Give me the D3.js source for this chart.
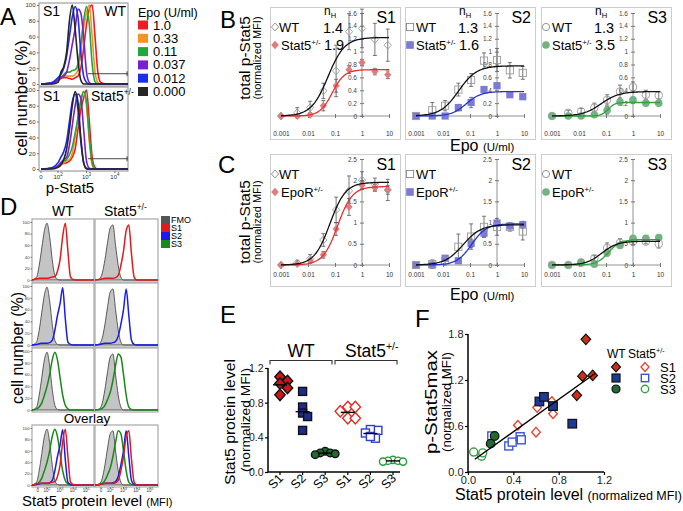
<!DOCTYPE html>
<html><head><meta charset="utf-8">
<script src="https://cdn.jsdelivr.net/npm/d3@7"></script>
<style>
body{margin:0;background:#fff}
svg text{font-family:"Liberation Sans",Arial,Helvetica,sans-serif}
</style>
</head><body>
<svg id="c" width="683" height="511"></svg>
<script>
// ================= DATA =================
// Panel A: Epo doses (legend) and flow histograms (% of max) on a log-channel grid
const epoLabels = ["1.0", "0.33", "0.11", "0.037", "0.012", "0.000"];
const histGridA = [1.4,1.8,2.0,2.1,2.2,2.3,2.4,2.5,2.6,2.7,2.8,2.9,3.0,3.1,3.2,3.3,3.4,3.5,3.7,4.0,4.46];
const aWT_10   = [0,2,4,7,8,8,7,6,8,10,20,45,75,95,100,60,15,2,0,0,0];
const aWT_033  = [0,2,5,8,10,10,10,10,12,18,40,70,90,100,60,15,2,0,0,0,0];
const aWT_011  = [0,2,5,8,12,15,15,17,18,25,50,80,98,75,25,3,0,0,0,0,0];
const aWT_0037 = [0,1,5,8,10,15,30,50,70,95,90,60,15,2,0,0,0,0,0,0,0];
const aWT_0012 = [0,2,8,12,20,35,60,85,98,85,40,10,2,0,0,0,0,0,0,0,0];
const aWT_000  = [0,0,2,15,22,40,80,100,70,30,5,0,0,0,0,0,0,0,0,0,0];
const aHet_10   = [0,1,3,6,7,8,10,15,25,50,75,90,100,60,15,2,0,0,0,0,0];
const aHet_033  = [0,1,4,7,8,10,12,20,40,65,88,98,80,35,5,0,0,0,0,0,0];
const aHet_011  = [0,1,4,8,10,12,18,28,45,65,85,98,85,40,8,0,0,0,0,0,0];
const aHet_0037 = [0,1,4,8,12,15,30,55,80,95,90,50,10,1,0,0,0,0,0,0,0];
const aHet_0012 = [0,2,8,15,22,35,60,85,95,75,35,8,1,0,0,0,0,0,0,0,0];
const aHet_000  = [0,0,2,5,12,25,50,80,98,85,40,8,0,0,0,0,0,0,0,0,0];
const aGate = 13;            // gate level (%)
const aTickT = [1.4, 2, 3, 4];
const aTickLabels = [["0",""],["10","2"],["10","3"],["10","4"]];
const pctTicks = [0,20,40,60,80,100];

// Panels B/C: dose response
const doses = [0.001, 0.004, 0.012, 0.037, 0.11, 0.33, 1, 3, 9];
const doseTicks = [0.001, 0.01, 0.1, 1, 10];
const doseTickLabels = ["0.001", "0.01", "0.1", "1", "10"];
const bS1wt  = [0,0.05,0.13,0.39,0.70,1.31,1.36,1.19,1.10];
const bS1wtE = [0.02,0.08,0.10,0.12,0.40,0.28,0.30,0.25,0.25];
const bS1mu  = [0,0,0.02,0.16,0.47,0.72,0.83,0.69,0.64];
const bS1muE = [0.01,0.02,0.03,0.08,0.10,0.06,0.05,0.05,0.06];
const bS2wt  = [0,0.09,0.16,0.41,0.56,0.86,0.87,0.71,0.67];
const bS2wtE = [0.02,0.12,0.08,0.10,0.10,0.12,0.18,0.12,0.10];
const bS2mu  = [0,0,0,0.13,0.21,0.41,0.47,0.33,0.30];
const bS2muE = [0.01,0.01,0.02,0.05,0.08,0.05,0.04,0.04,0.03];
const bS3wt  = [0,0.05,0.07,0.13,0.25,0.38,0.45,0.33,0.32];
const bS3wtE = [0.01,0.04,0.05,0.07,0.08,0.10,0.08,0.07,0.06];
const bS3mu  = [0,0,0,0.02,0.09,0.22,0.25,0.20,0.20];
const bS3muE = [0.01,0.02,0.02,0.04,0.06,0.05,0.04,0.04,0.03];
// Hill fits [top, EC50, nH]
const bFitWT = [[1.22,0.055,1.4],[0.78,0.038,1.3],[0.38,0.066,1.3]];
const bFitMu = [[0.72,0.079,1.9],[0.38,0.073,1.6],[0.21,0.12,3.5]];
const bNH = [["1.4","1.9"],["1.3","1.6"],["1.3","3.5"]];
const bYTicks = [0,0.2,0.4,0.6,0.8,1,1.2,1.4,1.6];

const cS1wt  = [0,0.05,0.15,0.59,1.30,1.75,2.00,1.90,1.77];
const cS1wtE = [0.02,0.05,0.10,0.15,0.30,0.35,0.20,0.15,0.25];
const cS1mu  = [0,0.02,0.10,0.24,0.85,1.37,1.88,1.82,1.77];
const cS1muE = [0.02,0.03,0.05,0.08,0.15,0.20,0.10,0.08,0.10];
const cS2wt  = [0,0.02,0.10,0.43,0.67,0.90,0.90,0.90,0.79];
const cS2wtE = [0.02,0.10,0.10,0.30,0.30,0.25,0.20,0.10,0.20];
const cS2mu  = [0,0,0.16,0.10,0.51,0.75,0.99,0.92,0.95];
const cS2muE = [0.02,0.02,0.05,0.05,0.10,0.08,0.06,0.05,0.08];
const cS3wt  = [0,0,0.05,0.16,0.40,0.52,0.55,0.55,0.50];
const cS3wtE = [0.02,0.03,0.05,0.06,0.12,0.10,0.08,0.05,0.10];
const cS3mu  = [0,0,0.07,0.02,0.29,0.46,0.63,0.63,0.65];
const cS3muE = [0.02,0.03,0.05,0.04,0.08,0.06,0.05,0.05,0.05];
const cFitWT = [[1.95,0.065,1.5],[0.95,0.055,1.3],[0.56,0.07,1.5]];
const cFitMu = [[1.85,0.125,1.6],[0.97,0.115,1.6],[0.60,0.126,2.0]];
const cYTicks = [0,0.5,1,1.5,2,2.5];
const stages = ["S1","S2","S3"];

// Panel D: Stat5 protein histograms
const histGridD = [0.85,1.2,1.4,1.6,1.8,2.0,2.2,2.4,2.6,2.8,3.0,3.2,3.4,3.6,3.8,4.0,4.4,5.0,5.6];
const dWT_FMO = [0,5,25,55,85,98,75,35,8,1,0,0,0,0,0,0,0,0,0];
const dWT_S1  = [0,2,3,3,3,3,4,5,6,15,35,75,98,50,5,1,0,0,0];
const dWT_S2  = [0,1,2,3,3,3,4,8,25,50,70,97,45,5,1,0,0,0,0];
const dWT_S3  = [0,2,5,12,25,40,60,85,98,85,55,25,8,2,0,0,0,0,0];
const dHet_FMO = [0,2,12,35,65,90,95,60,25,5,0,0,0,0,0,0,0,0,0];
const dHet_S1  = [0,1,2,3,3,3,3,4,8,25,50,85,95,45,5,0,0,0,0];
const dHet_S2  = [0,1,2,3,3,3,4,6,15,35,60,95,50,8,1,0,0,0,0];
const dHet_S3  = [0,1,3,8,18,30,50,75,95,90,60,25,5,1,0,0,0,0,0];
const dTickT = [1.3,2,3,4,5];
const dTickLabels = [["0",""],["10","2"],["10","3"],["10","4"],["10","5"]];
const dLegend = ["FMO","S1","S2","S3"];

// Panel E: Stat5 protein level
const eCats = ["S1","S2","S3","S1","S2","S3"];
const eWT_S1 = [1.10,1.05,1.02,0.97,0.89];
const eWT_S2 = [0.93,0.75,0.68,0.64,0.48];
const eWT_S3 = [0.24,0.22,0.21,0.22,0.20];
const eHet_S1 = [0.75,0.75,0.70,0.62,0.62];
const eHet_S2 = [0.48,0.49,0.45,0.39,0.41];
const eHet_S3 = [0.14,0.13,0.12,0.13,0.12];
const eYTicks = [0,0.4,0.8,1.2];

// Panel F: p-Stat5max vs Stat5 protein
const fWT_S1x = [1.04,1.01,1.10,0.96],   fWT_S1y = [1.73,1.25,1.26,1.00];
const fWT_S2x = [0.63,0.67,0.75,0.92],   fWT_S2y = [0.92,0.98,0.86,0.63];
const fWT_S3x = [0.20,0.235],            fWT_S3y = [0.37,0.47];
const fHet_S1x = [0.44,0.61,0.74,0.75,0.60], fHet_S1y = [0.61,0.84,0.92,0.76,0.52];
const fHet_S2x = [0.21,0.36,0.39,0.46,0.47], fHet_S2y = [0.47,0.34,0.39,0.46,0.42];
const fHet_S3x = [0.05,0.12,0.13],       fHet_S3y = [0.26,0.205,0.25];
const fXTicks = [0,0.4,0.8,1.2];
const fYTicks = [0,0.6,1.2,1.8];

// ================= DRAWING =================
const FONT = '"Liberation Sans", Arial, Helvetica, sans-serif';
const svg = d3.select("#c");

function T(x, y, str, size, o = {}) {
  const t = svg.append("text").attr("x", x).attr("y", y).attr("font-size", size)
    .attr("fill", o.fill || "#000").attr("text-anchor", o.anchor || "start");
  if (o.rotate) t.attr("transform", `rotate(${o.rotate},${x},${y})`);
  if (o.len) t.attr("textLength", o.len).attr("lengthAdjust", "spacingAndGlyphs");
  if (str !== null) t.text(str);
  return t;
}
function TS(x, y, base, sup, size, o = {}) {
  const t = T(x, y, null, size, o);
  t.append("tspan").text(base);
  t.append("tspan").attr("font-size", size * 0.6).attr("dy", -size * 0.42).text(sup);
  return t;
}
function marker(g, type, cx, cy, r, fill, stroke, sw) {
  let m;
  if (type === "circle") m = g.append("circle").attr("cx", cx).attr("cy", cy).attr("r", r);
  else if (type === "square") m = g.append("rect").attr("x", cx - r).attr("y", cy - r).attr("width", 2 * r).attr("height", 2 * r);
  else m = g.append("path").attr("d", `M${cx},${cy - r * 1.1}L${cx + r},${cy}L${cx},${cy + r * 1.1}L${cx - r},${cy}Z`);
  m.attr("fill", fill).attr("stroke", stroke).attr("stroke-width", sw);
  return m;
}

// ---------- Panel A ----------
T(0, 25, "A", 24);
const aColors = ["#ee1c24", "#f7931e", "#22a83a", "#7a1fd0", "#1c2bf0", "#262626"];
const aWT = [aWT_10, aWT_033, aWT_011, aWT_0037, aWT_0012, aWT_000];
const aHet = [aHet_10, aHet_033, aHet_011, aHet_0037, aHet_0012, aHet_000];
function histA(box, y100, y0, curves) {
  const g = svg.append("g");
  const x = d3.scaleLinear().domain([1.33, 4.46]).range([box.x0, box.x1]);
  const y = d3.scaleLinear().domain([0, 100]).range([y0, y100]);
  g.append("rect").attr("x", box.x0).attr("y", box.y0).attr("width", box.x1 - box.x0)
    .attr("height", box.y1 - box.y0).attr("fill", "#fff").attr("stroke", "#8a8a8a").attr("stroke-width", 1);
  const ya = g.append("g").attr("transform", `translate(${box.x0},0)`)
    .call(d3.axisLeft(y).tickValues(pctTicks).tickSize(2).tickPadding(1.5));
  ya.select(".domain").remove();
  ya.selectAll("text").attr("font-size", 6).attr("font-family", FONT).attr("fill", "#333");
  ya.selectAll("line").attr("stroke", "#777");
  const line = d3.line().x((d, i) => x(histGridA[i])).y(d => y(d)).curve(d3.curveMonotoneX);
  curves.forEach((c, k) => {
    g.append("path").attr("d", line(c)).attr("fill", "none").attr("stroke", aColors[k]).attr("stroke-width", 1.6);
  });
  g.append("line").attr("x1", x(3.05)).attr("x2", box.x1).attr("y1", y(aGate)).attr("y2", y(aGate)).attr("stroke", "#333").attr("stroke-width", 0.9);
  g.append("line").attr("x1", box.x1 - 1).attr("x2", box.x1 - 1).attr("y1", y(aGate) - 2.5).attr("y2", y(aGate) + 2.5).attr("stroke", "#333").attr("stroke-width", 0.9);
  return x;
}
histA({x0: 39, x1: 128, y0: 3, y1: 86}, 5, 84, aWT);
const xA = histA({x0: 39, x1: 128, y0: 87, y1: 171}, 90, 169, aHet);
aTickT.forEach((t, i) => {
  svg.append("line").attr("x1", xA(t)).attr("x2", xA(t)).attr("y1", 171).attr("y2", 173).attr("stroke", "#777");
  const tx = T(xA(t), 179, null, 6, {anchor: "middle", fill: "#333"});
  tx.append("tspan").text(aTickLabels[i][0]);
  if (aTickLabels[i][1]) tx.append("tspan").attr("font-size", 4.5).attr("dy", -3).text(aTickLabels[i][1]);
});
T(43, 16, "S1", 14);
T(126, 16, "WT", 14, {anchor: "end"});
T(43, 101, "S1", 14);
TS(91, 101, "Stat5", "+/-", 14);
T(27, 98, "cell number (%)", 16.5, {anchor: "middle", rotate: -90});
T(70, 193, "p-Stat5", 15, {anchor: "middle"});
T(138, 17, "Epo (U/ml)", 12.5);
epoLabels.forEach((l, i) => {
  svg.append("rect").attr("x", 138).attr("y", 20.5 + i * 13.3).attr("width", 10).attr("height", 9).attr("fill", aColors[i]);
  T(153, 29.5 + i * 13.3, l, 13);
});

// ---------- Panels B, C ----------
const shapes = ["diamond", "square", "circle"];
const muFill = ["#e27b7b", "#7b7bd6", "#72b383"];
const muCurve = ["#e23030", "#2434c8", "#2fa03a"];
const panelX = [270, 405, 541];
function hill(p, x) { return p[0] * Math.pow(x, p[2]) / (Math.pow(p[1], p[2]) + Math.pow(x, p[2])); }

function dosePanel(p) {
  const g = svg.append("g");
  const x = d3.scaleLog().domain([0.001, 10]).range([p.x0 + 11, p.x0 + 119]);
  const y = d3.scaleLinear().domain([0, p.yMax]).range([p.yZero, p.yTopPx]);
  g.append("rect").attr("x", p.x0 + 0.5).attr("y", p.boxTop + 0.5).attr("width", 130)
    .attr("height", p.boxBot - p.boxTop).attr("fill", "#fff").attr("stroke", "#cdcdcd");
  g.append("line").attr("x1", x(0.001)).attr("x2", x(10)).attr("y1", p.yZero).attr("y2", p.yZero).attr("stroke", "#777").attr("stroke-width", 0.8);
  const xa = g.append("g").attr("transform", `translate(0,${p.yZero})`)
    .call(d3.axisBottom(x).tickValues(doseTicks).tickFormat((d, i) => doseTickLabels[i]).tickSize(2).tickPadding(p.pad));
  xa.select(".domain").remove();
  xa.selectAll(".tick line").attr("y1", -2).attr("y2", 2).attr("stroke", "#777");
  xa.selectAll("text").attr("font-size", 6.5).attr("font-family", FONT).attr("fill", "#333");
  g.append("line").attr("x1", x(1)).attr("x2", x(1)).attr("y1", p.yZero).attr("y2", p.yTopPx).attr("stroke", "#777").attr("stroke-width", 0.8);
  const ya = g.append("g").attr("transform", `translate(${x(1)},0)`)
    .call(d3.axisLeft(y).tickValues(p.yTicks).tickFormat(d => String(+d.toFixed(1))).tickSize(2).tickPadding(3));
  ya.select(".domain").remove();
  ya.selectAll(".tick line").attr("x1", 2).attr("x2", -2).attr("stroke", "#777");
  ya.selectAll("text").attr("font-size", 6.5).attr("font-family", FONT).attr("fill", "#444");
  const k = p.k;
  const xs = d3.range(0, 81).map(i => Math.pow(10, -3 + 4 * i / 80));
  const curveLine = fit => d3.line().x(d => x(d)).y(d => y(hill(fit, d)))(xs);
  [[p.wt, p.wtE], [p.mu, p.muE]].forEach(([v, e]) => {
    doses.forEach((d, i) => {
      const cx = x(d);
      g.append("line").attr("x1", cx).attr("x2", cx).attr("y1", y(v[i] - e[i])).attr("y2", y(v[i] + e[i])).attr("stroke", "#555").attr("stroke-width", 0.8);
      [v[i] - e[i], v[i] + e[i]].forEach(vv => g.append("line").attr("x1", cx - 2).attr("x2", cx + 2).attr("y1", y(vv)).attr("y2", y(vv)).attr("stroke", "#555").attr("stroke-width", 0.8));
    });
  });
  doses.forEach((d, i) => marker(g, shapes[k], x(d), y(p.mu[i]), k === 2 ? 3.8 : 3.6, muFill[k], "none", 0));
  doses.forEach((d, i) => marker(g, shapes[k], x(d), y(p.wt[i]), k === 2 ? 3.8 : 3.6, "none", "#9a9a9a", 0.9));
  g.append("path").attr("d", curveLine(p.fitMu)).attr("fill", "none").attr("stroke", muCurve[k]).attr("stroke-width", 1.3);
  g.append("path").attr("d", curveLine(p.fitWT)).attr("fill", "none").attr("stroke", "#111").attr("stroke-width", 1.3);
  T(p.x0 + 126, p.boxTop + 16, stages[k], 16, {anchor: "end"});
  const lx = p.x0 + 5, ly1 = p.boxTop + 20, ly2 = p.boxTop + 38;
  marker(g, shapes[k], lx, ly1, 3.6, "#fff", "#888", 0.9);
  T(lx + (k === 0 ? 4 : 6), ly1 + 5, "WT", 13);
  marker(g, shapes[k], lx, ly2, 3.8, muFill[k], "none", 0);
  TS(lx + 6, ly2 + 5, p.mutName, "+/-", 13);
  if (p.nH) {
    const t = T(p.x0 + 60, p.boxTop + 8, null, 12, {anchor: "middle"});
    t.append("tspan").text("n");
    t.append("tspan").attr("font-size", 7.5).attr("dy", 2.5).text("H");
    T(p.x0 + 63, p.boxTop + 26, p.nH[0], 14.5, {anchor: "middle"});
    T(p.x0 + 64, p.boxTop + 43, p.nH[1], 14.5, {anchor: "middle"});
  }
}
const bWT = [bS1wt, bS2wt, bS3wt], bWTE = [bS1wtE, bS2wtE, bS3wtE], bMu = [bS1mu, bS2mu, bS3mu], bMuE = [bS1muE, bS2muE, bS3muE];
const cWT = [cS1wt, cS2wt, cS3wt], cWTE = [cS1wtE, cS2wtE, cS3wtE], cMu = [cS1mu, cS2mu, cS3mu], cMuE = [cS1muE, cS2muE, cS3muE];
for (let k = 0; k < 3; k++) {
  dosePanel({k, x0: panelX[k], boxTop: 7, boxBot: 139, yZero: 116, yTopPx: 13, yMax: 1.6, yTicks: bYTicks, pad: 13,
    wt: bWT[k], wtE: bWTE[k], mu: bMu[k], muE: bMuE[k], fitWT: bFitWT[k], fitMu: bFitMu[k], nH: bNH[k], mutName: "Stat5"});
  dosePanel({k, x0: panelX[k], boxTop: 154, boxBot: 286, yZero: 265, yTopPx: 159, yMax: 2.5, yTicks: cYTicks, pad: 5,
    wt: cWT[k], wtE: cWTE[k], mu: cMu[k], muE: cMuE[k], fitWT: cFitWT[k], fitMu: cFitMu[k], nH: null, mutName: "EpoR"});
}
T(220, 28, "B", 24);
T(218, 173, "C", 24);
[58, 222].forEach(cy => {
  T(250, cy, "total p-Stat5", 15.5, {anchor: "middle", rotate: -90});
  T(261, cy, "(normalized MFI)", 11, {anchor: "middle", rotate: -90});
});
[151, 300].forEach(yy => {
  const t = T(450, yy, null, 16);
  t.append("tspan").text("Epo ");
  t.append("tspan").attr("font-size", 11.5).text("(U/ml)");
});

// ---------- Panel D ----------
T(0, 215, "D", 24);
T(63, 216, "WT", 14, {anchor: "middle"});
TS(104, 216, "Stat5", "+/-", 14);
const dColors = ["#555555", "#e01b1b", "#1a1aee", "#178a17"];
const dCols = [{x0: 32, x1: 94, c: [dWT_FMO, dWT_S1, dWT_S2, dWT_S3]}, {x0: 95, x1: 158, c: [dHet_FMO, dHet_S1, dHet_S2, dHet_S3]}];
const dRows = [{y0: 219, y1: 282, show: [1]}, {y0: 283, y1: 347, show: [2]}, {y0: 348, y1: 412, show: [3]}, {y0: 425, y1: 487, show: [3, 2, 1]}];
dCols.forEach((col, ci) => {
  const x = d3.scaleLinear().domain([0.85, 5.6]).range([col.x0, col.x1]);
  dRows.forEach((row, ri) => {
    const g = svg.append("g");
    const y = d3.scaleLinear().domain([0, 100]).range([row.y1 - 2, row.y0 + 3]);
    g.append("rect").attr("x", col.x0).attr("y", row.y0).attr("width", col.x1 - col.x0).attr("height", row.y1 - row.y0)
      .attr("fill", "#fff").attr("stroke", "#a8a8a8").attr("stroke-width", 1.2);
    const area = d3.area().x((d, i) => x(histGridD[i])).y0(y(0)).y1(d => y(d)).curve(d3.curveMonotoneX);
    const line = d3.line().x((d, i) => x(histGridD[i])).y(d => y(d)).curve(d3.curveMonotoneX);
    g.append("path").attr("d", area(col.c[0])).attr("fill", "#c4c4c4").attr("stroke", "#4a4a4a").attr("stroke-width", 0.9);
    row.show.forEach(s => g.append("path").attr("d", line(col.c[s])).attr("fill", "none").attr("stroke", dColors[s]).attr("stroke-width", 1.5));
    if (ci === 0) {
      const ya = g.append("g").attr("transform", `translate(${col.x0},0)`)
        .call(d3.axisLeft(y).tickValues(pctTicks).tickSize(1.5).tickPadding(1));
      ya.select(".domain").remove();
      ya.selectAll("text").attr("font-size", 4.2).attr("font-family", FONT).attr("fill", "#333");
      ya.selectAll("line").attr("stroke", "#777");
    }
    if (ri === 3) {
      dTickT.forEach((t, i) => {
        g.append("line").attr("x1", x(t)).attr("x2", x(t)).attr("y1", row.y1).attr("y2", row.y1 + 1.5).attr("stroke", "#777");
        const tx = T(x(t), row.y1 + 5, null, 4.5, {anchor: "middle", fill: "#333"});
        tx.append("tspan").text(dTickLabels[i][0]);
        if (dTickLabels[i][1]) tx.append("tspan").attr("font-size", 3.5).attr("dy", -2).text(dTickLabels[i][1]);
      });
    }
  });
});
T(87, 423, "Overlay", 13.5, {anchor: "middle"});
T(23, 348, "cell number (%)", 16, {anchor: "middle", rotate: -90});
{
  const t = T(22, 506, null, 15);
  t.append("tspan").text("Stat5 protein level ");
  t.append("tspan").attr("font-size", 11).text("(MFI)");
}
dLegend.forEach((l, i) => {
  svg.append("rect").attr("x", 161).attr("y", 216 + i * 8).attr("width", 9).attr("height", 8).attr("fill", dColors[i]);
  T(171, 223 + i * 8, l, 9);
});

// ---------- Panel E ----------
T(220, 323, "E", 24);
const eVals = [eWT_S1, eWT_S2, eWT_S3, eHet_S1, eHet_S2, eHet_S3];
const eStyle = [
  {s: "diamond", f: "#c8161b", st: "#111", r: 5.2},
  {s: "square", f: "#1c2d8c", st: "#111", r: 4},
  {s: "circle", f: "#1f6b30", st: "#111", r: 3.8},
  {s: "diamond", f: "#fff", st: "#e32b22", r: 5.2},
  {s: "square", f: "#fff", st: "#2c3fd0", r: 4},
  {s: "circle", f: "#fff", st: "#2a9a3e", r: 3.6}];
const xE = d3.scalePoint().domain(d3.range(6)).range([280, 393]);
const yE = d3.scaleLinear().domain([0, 1.2]).range([472, 368]);
{
  const g = svg.append("g");
  const ya = g.append("g").attr("transform", "translate(268,0)")
    .call(d3.axisLeft(yE).tickValues(eYTicks).tickFormat(d3.format(".1f")).tickSize(3).tickPadding(1.5));
  ya.select(".domain").remove();
  ya.selectAll("text").attr("font-size", 10.5).attr("font-family", FONT).attr("fill", "#222");
  ya.selectAll("line").attr("stroke-width", 1.2);
  g.append("line").attr("x1", 268).attr("x2", 268).attr("y1", yE(0)).attr("y2", yE(1.2)).attr("stroke", "#000").attr("stroke-width", 1.5);
  g.append("line").attr("x1", 268).attr("x2", 400).attr("y1", yE(0)).attr("y2", yE(0)).attr("stroke", "#000").attr("stroke-width", 1.5);
  eCats.forEach((c, i) => {
    g.append("line").attr("x1", xE(i)).attr("x2", xE(i)).attr("y1", yE(0)).attr("y2", yE(0) + 3).attr("stroke", "#000").attr("stroke-width", 1.2);
    T(xE(i) + 4, 479, c, 12.5, {anchor: "end", rotate: -45});
  });
  function dodge(vals, step, minD) {
    const order = d3.range(vals.length).sort((a, b) => vals[b] - vals[a]);
    const placed = [], off = [];
    order.forEach(i => {
      const py = yE(vals[i]);
      for (let k = 0; k < 30; k++) {
        const o = (k % 2 ? 1 : -1) * Math.ceil(k / 2) * step;
        if (placed.every(p => Math.hypot(p.x - o, p.y - py) >= minD)) { off[i] = o; placed.push({x: o, y: py}); break; }
      }
    });
    return off;
  }
  eVals.forEach((vals, gi) => {
    const st = eStyle[gi];
    const off = dodge(vals, 2.5, 1.3 * st.r);
    const m = d3.mean(vals);
    vals.forEach((v, i) => marker(g, st.s, xE(gi) + off[i], yE(v), st.r, st.f, st.st, 1.4));
    g.append("line").attr("x1", xE(gi) - 7).attr("x2", xE(gi) + 7).attr("y1", yE(m)).attr("y2", yE(m)).attr("stroke", "#000").attr("stroke-width", 1.4);
  });
  [[270, 332, "WT"], [335, 397, "Stat5"]].forEach(([a, b, lab], i) => {
    g.append("path").attr("d", `M${a},364.5V360.5H${b}V364.5`).attr("fill", "none").attr("stroke", "#333").attr("stroke-width", 1.1);
    if (i === 0) T((a + b) / 2, 357, lab, 17.5, {anchor: "middle"});
    else TS(345, 357, lab, "+/-", 17.5);
  });
}
T(235, 422, "Stat5 protein level", 15.5, {anchor: "middle", rotate: -90, len: 126});
T(250, 420, "(normalized MFI)", 12, {anchor: "middle", rotate: -90, len: 104});

// ---------- Panel F ----------
T(415, 327, "F", 24);
const xF = d3.scaleLinear().domain([0, 1.2]).range([468, 604]);
const yF = d3.scaleLinear().domain([0, 1.8]).range([472, 334]);
const fSets = [[fWT_S1x, fWT_S1y], [fWT_S2x, fWT_S2y], [fWT_S3x, fWT_S3y], [fHet_S1x, fHet_S1y], [fHet_S2x, fHet_S2y], [fHet_S3x, fHet_S3y]];
const fStyle = [
  {s: "diamond", f: "#c9301c", st: "#111", r: 4.8, w: 1.2},
  {s: "square", f: "#1d3a94", st: "#111", r: 4.3, w: 1.2},
  {s: "circle", f: "#1f6a30", st: "#111", r: 4.3, w: 1.2},
  {s: "diamond", f: "#fff", st: "#e8452f", r: 4.3, w: 1.4},
  {s: "square", f: "#fff", st: "#3b55d8", r: 4.0, w: 1.4},
  {s: "circle", f: "#fff", st: "#3ca04e", r: 4.0, w: 1.4}];
{
  const g = svg.append("g");
  const xa = g.append("g").attr("transform", `translate(0,${yF(0)})`)
    .call(d3.axisBottom(xF).tickValues(fXTicks).tickFormat(d3.format(".1f")).tickSize(3).tickPadding(1.5));
  const ya = g.append("g").attr("transform", `translate(${xF(0)},0)`)
    .call(d3.axisLeft(yF).tickValues(fYTicks).tickFormat(d3.format(".1f")).tickSize(3).tickPadding(1.5));
  [xa, ya].forEach(a => {
    a.select(".domain").remove();
    a.selectAll("text").attr("font-size", 11).attr("font-family", FONT).attr("fill", "#222");
    a.selectAll("line").attr("stroke-width", 1.2);
  });
  g.append("line").attr("x1", xF(0)).attr("x2", xF(1.2)).attr("y1", yF(0)).attr("y2", yF(0)).attr("stroke", "#000").attr("stroke-width", 1.5);
  g.append("line").attr("x1", xF(0)).attr("x2", xF(0)).attr("y1", yF(0)).attr("y2", yF(1.8)).attr("stroke", "#000").attr("stroke-width", 1.5);
  const pts = [];
  fSets.forEach(([xs, ys]) => xs.forEach((v, i) => pts.push([v, ys[i]])));
  const mx = d3.mean(pts, d => d[0]), my = d3.mean(pts, d => d[1]);
  const slope = d3.sum(pts, d => (d[0] - mx) * (d[1] - my)) / d3.sum(pts, d => (d[0] - mx) ** 2);
  const icpt = my - slope * mx;
  const [xmin, xmax] = d3.extent(pts, d => d[0]);
  [3, 4, 5, 2, 1, 0].forEach(si => {
    const [xs, ys] = fSets[si], st = fStyle[si];
    xs.forEach((v, i) => marker(g, st.s, xF(v), yF(ys[i]), st.r, st.f, st.st, st.w));
  });
  g.append("line").attr("x1", xF(xmin + 0.01)).attr("x2", xF(xmax + 0.02)).attr("y1", yF(icpt + slope * (xmin + 0.01))).attr("y2", yF(icpt + slope * (xmax + 0.02)))
    .attr("stroke", "#000").attr("stroke-width", 1.4);
  T(607, 358, "WT", 12);
  TS(628, 358, "Stat5", "+/-", 12);
  stages.forEach((s, i) => {
    const yy = 367 + i * 11;
    const a = fStyle[i], b = fStyle[i + 3];
    marker(g, a.s, 616, yy, a.r - 0.3, a.f, a.st, a.w);
    marker(g, b.s, 645, yy, b.r - 0.3, b.f, b.st, b.w);
    T(660, yy + 4.5, s, 13);
  });
}
T(437, 402, "p-Stat5max", 17, {anchor: "middle", rotate: -90, len: 104});
T(451, 402, "(normalized MFI)", 12.5, {anchor: "middle", rotate: -90, len: 100});
{
  const t = T(455, 500, null, 16);
  t.append("tspan").text("Stat5 protein level ");
  t.append("tspan").attr("font-size", 12.5).text("(normalized MFI)");
}
</script>
</body></html>
